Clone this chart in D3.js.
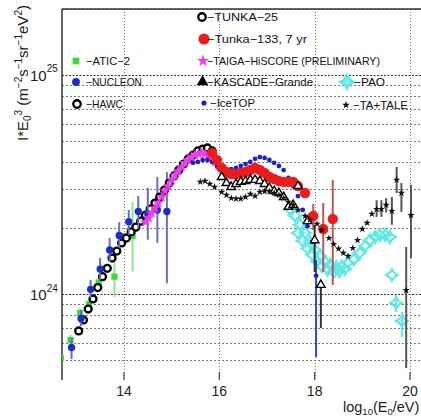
<!DOCTYPE html>
<html>
<head>
<meta charset="utf-8">
<script src="https://cdn.jsdelivr.net/npm/d3@7"></script>
<style>
  body { margin: 0; background: #fff; }
  svg { display: block; font-family: "Liberation Sans", Arial, sans-serif; }
</style>
</head>
<body>
<svg id="chart" width="421" height="419"></svg>
<script>
// ---- axis ticks ----
const X_TICKS = [14, 16, 18, 20];
const Y_LABELS = [1e24, 1e25];
const Y_LABEL_EXP = ["24", "25"];

// ---- ATIC-2 ----
const atic2Lg   = [12.68, 12.88, 13.08, 13.27, 13.47, 13.62, 13.80, 14.02, 14.18];
const atic2Flux = [5.10e23, 6.16e23, 8.19e23, 9.00e23, 1.13e24, 1.31e24, 1.20e24, 1.84e24, 1.84e24];
const atic2Lo   = [4.6e23, 5.8e23, 7.8e23, null, null, null, 0.969e24, null, 1.27e24];
const atic2Hi   = [5.6e23, 6.5e23, 8.6e23, null, null, null, 1.59e24, null, 2.63e24];

// ---- NUCLEON ----
const nucleonLg   = [12.9, 13.1, 13.3, 13.5, 13.7, 13.9, 14.1, 14.3, 14.5, 14.7, 14.9];
const nucleonFlux = [5.70e23, 7.73e23, 1.05e24, 1.30e24, 1.59e24, 1.85e24, 2.14e24, 2.38e24, 2.32e24, 2.42e24, 2.38e24];
const nucleonLo   = [5.05e23, 7.14e23, 9.59e23, 1.16e24, 1.40e24, 1.62e24, 1.86e24, 2.00e24, 1.77e24, 1.71e24, 1.12e24];
const nucleonHi   = [6.30e23, 8.45e23, 1.16e24, 1.46e24, 1.80e24, 2.13e24, 2.42e24, 2.80e24, 3.05e24, 3.42e24, 3.60e24];

// ---- HAWC ----
const hawcLg   = [13.05, 13.15, 13.25, 13.35, 13.45, 13.55, 13.65, 13.75, 13.85, 13.95, 14.05, 14.15, 14.25, 14.35, 14.45, 14.55];
const hawcFlux = [6.78e23, 7.61e23, 8.54e23, 9.49e23, 1.07e24, 1.20e24, 1.31e24, 1.46e24, 1.57e24, 1.71e24, 1.80e24, 1.92e24, 2.02e24, 2.15e24, 2.29e24, 2.44e24];

// ---- TUNKA-25 ----
const tunka25Lg   = [14.65, 14.75, 14.85, 14.95, 15.05, 15.15, 15.25, 15.35, 15.45, 15.55, 15.65, 15.75, 15.85];
const tunka25Flux = [2.60e24, 2.77e24, 2.98e24, 3.21e24, 3.46e24, 3.68e24, 3.92e24, 4.14e24, 4.31e24, 4.50e24, 4.59e24, 4.64e24, 4.50e24];

// ---- TAIGA-HiSCORE ----
const taigaLg   = [14.45, 14.52, 14.58, 14.65, 14.72, 14.79, 14.86, 14.93, 15.00, 15.07, 15.14, 15.21, 15.28, 15.35, 15.42, 15.49, 15.56, 15.63, 15.70, 15.77, 15.84, 15.91, 15.98];
const taigaFlux = [2.13e24, 2.22e24, 2.34e24, 2.47e24, 2.60e24, 2.77e24, 2.95e24, 3.11e24, 3.32e24, 3.49e24, 3.64e24, 3.80e24, 3.97e24, 4.09e24, 4.22e24, 4.31e24, 4.36e24, 4.41e24, 4.36e24, 4.31e24, 4.18e24, 4.01e24, 3.84e24];

// ---- IceTOP ----
const icetopLg   = [15.45, 15.55, 15.65, 15.75, 15.85, 15.95, 16.05, 16.15, 16.25, 16.35, 16.45, 16.55, 16.65, 16.75, 16.85, 16.95, 17.05, 17.15, 17.25, 17.35, 17.45, 17.55, 17.65, 17.75, 17.85, 17.95, 18.03];
const icetopFlux = [3.97e24, 4.01e24, 4.09e24, 4.09e24, 4.01e24, 3.84e24, 3.72e24, 3.68e24, 3.72e24, 3.76e24, 3.84e24, 3.92e24, 4.01e24, 4.14e24, 4.22e24, 4.18e24, 4.09e24, 3.97e24, 3.84e24, 3.68e24, 3.39e24, 3.11e24, 2.80e24, 2.42e24, 2.04e24, 1.73e24, 1.21e24];
const icetopLo   = icetopLg.map((v, i) => i === icetopLg.length - 1 ? 5.16e23 : null);
const icetopHi   = icetopLg.map((v, i) => i === icetopLg.length - 1 ? 1.43e24 : null);

// ---- Tunka-133, 7 yr ----
const tunka133Lg   = [15.85, 15.95, 16.05, 16.15, 16.25, 16.35, 16.45, 16.55, 16.65, 16.75, 16.85, 16.95, 17.05, 17.15, 17.25, 17.35, 17.45, 17.55, 17.65, 17.80, 17.97, 18.18, 18.38];
const tunka133Flux = [4.41e24, 4.09e24, 3.76e24, 3.61e24, 3.53e24, 3.53e24, 3.57e24, 3.61e24, 3.68e24, 3.76e24, 3.68e24, 3.57e24, 3.42e24, 3.35e24, 3.28e24, 3.25e24, 3.25e24, 3.25e24, 3.11e24, 2.89e24, 2.27e24, 1.98e24, 2.20e24];
const tunka133Lo   = tunka133Lg.map((v, i) => [null, 1.96e24, 1.26e24, 1.10e24][Math.max(0, i - 19)]);
const tunka133Hi   = tunka133Lg.map((v, i) => [null, 2.58e24, 2.60e24, 3.32e24][Math.max(0, i - 19)]);

// ---- KASCADE-Grande ----
const kascadeLg   = [16.05, 16.15, 16.25, 16.35, 16.45, 16.55, 16.65, 16.75, 16.85, 16.95, 17.05, 17.15, 17.25, 17.35, 17.45, 17.55, 17.65, 17.85, 18.00, 18.13];
const kascadeFlux = [3.42e24, 3.21e24, 3.08e24, 3.18e24, 3.25e24, 3.28e24, 3.32e24, 3.32e24, 3.28e24, 3.18e24, 3.05e24, 2.95e24, 2.89e24, 2.77e24, 2.50e24, 2.55e24, 3.11e24, 2.15e24, 1.76e24, 1.10e24];
const kascadeLo   = kascadeLg.map((v, i) => i === 18 ? 1.26e24 : i === 19 ? 7.0e23 : null);
const kascadeHi   = kascadeLg.map((v, i) => i === 18 ? 2.07e24 : i === 19 ? 1.16e24 : null);

// ---- PAO ----
const paoLg   = [17.48, 17.59, 17.69, 17.80, 17.90, 18.01, 18.11, 18.22, 18.32, 18.45, 18.57, 18.70, 18.82, 18.95, 19.06, 19.16, 19.27, 19.37, 19.48, 19.58,
                 17.65, 17.75, 17.85, 17.95, 18.05, 18.15, 18.27, 18.40, 18.52, 18.64,
                 19.62, 19.71, 19.83];
const paoFlux = [2.44e24, 2.27e24, 2.07e24, 1.90e24, 1.73e24, 1.59e24, 1.49e24, 1.40e24, 1.36e24, 1.33e24, 1.34e24, 1.39e24, 1.44e24, 1.54e24, 1.66e24, 1.76e24, 1.82e24, 1.86e24, 1.86e24, 1.82e24,
                 1.90e24, 1.75e24, 1.61e24, 1.51e24, 1.41e24, 1.34e24, 1.29e24, 1.26e24, 1.27e24, 1.30e24,
                 1.22e24, 9.10e23, 7.53e23];
const paoLo   = paoLg.map((v, i) => i === 31 ? 8.28e23 : i === 32 ? 6.36e23 : null);
const paoHi   = paoLg.map((v, i) => i === 31 ? 9.90e23 : i === 32 ? 8.28e23 : null);

// ---- TA+TALE ----
const taLg   = [15.6, 15.7, 15.8, 15.9, 16.05, 16.15, 16.25, 16.35, 16.45, 16.55, 16.65, 16.75, 16.85, 16.95, 17.05, 17.15, 17.25, 17.35, 17.45, 17.55, 17.65, 17.8, 17.9,
                18.05, 18.15, 18.3, 18.4, 18.5, 18.6, 18.7, 18.8, 18.9, 19.0, 19.1, 19.2, 19.3, 19.4, 19.5, 19.62, 19.72, 19.82, 19.92, 20.02];
const taFlux = [3.25e24, 3.28e24, 3.18e24, 3.08e24, 2.92e24, 2.83e24, 2.74e24, 2.72e24, 2.72e24, 2.77e24, 2.86e24, 2.80e24, 2.92e24, 2.94e24, 2.94e24, 2.89e24, 2.83e24, 2.74e24, 2.63e24, 2.55e24, 2.42e24, 2.27e24, 2.18e24,
                2.09e24, 1.96e24, 1.80e24, 1.69e24, 1.61e24, 1.54e24, 1.49e24, 1.62e24, 1.76e24, 1.98e24, 2.11e24, 2.32e24, 2.44e24, 2.44e24, 2.55e24, 2.39e24, 3.32e24, 2.89e24, 1.04e24, 2.29e24];
const taLo   = [null, null, null, null, null, null, null, null, null, null, null, null, null, null, null, null, null, null, null, null, null, null, null,
                null, null, null, null, null, null, null, null, null, null, null, null, 2.25e24, 2.25e24, 2.36e24, 2.07e24, 2.89e24, 2.37e24, 4.59e23, 1.46e24];
const taHi   = [null, null, null, null, null, null, null, null, null, null, null, null, null, null, null, null, null, null, null, null, null, null, null,
                null, null, null, null, null, null, null, null, null, null, null, null, 2.68e24, 2.68e24, 2.74e24, 2.77e24, 3.80e24, 3.21e24, 1.64e24, 3.15e24];

// ---- layout ----
const W = 421, H = 419;
const plotLeft = 62, plotTop = 9, plotBottom = 380;
const x = d3.scaleLinear().domain([12.7, 20.3]).range([plotLeft, 424.3]);
const y = d3.scaleLog().domain([4.05e23, 2e25]).range([plotBottom, plotTop]);

const svg = d3.select("#chart");
svg.append("defs").append("clipPath").attr("id", "plotClip")
  .append("rect").attr("x", plotLeft).attr("y", plotTop).attr("width", W - plotLeft).attr("height", plotBottom - plotTop);

// ---- grid ----
const isDecade = v => Math.abs(Math.log10(v) - Math.round(Math.log10(v))) < 1e-9;
const grid = svg.append("g");
grid.selectAll("line.h").data(y.ticks()).join("line")
  .attr("class", "h")
  .attr("x1", plotLeft).attr("x2", W)
  .attr("y1", d => Math.round(y(d)) + 0.5).attr("y2", d => Math.round(y(d)) + 0.5)
  .attr("stroke", d => isDecade(d) ? "#333" : "#7a7a7a")
  .attr("stroke-width", 1)
  .attr("stroke-dasharray", d => isDecade(d) ? "2,1.5" : "2,2");
grid.selectAll("line.v").data(X_TICKS).join("line")
  .attr("class", "v")
  .attr("x1", d => Math.round(x(d)) + 0.5).attr("x2", d => Math.round(x(d)) + 0.5)
  .attr("y1", plotTop).attr("y2", plotBottom)
  .attr("stroke", "#777").attr("stroke-width", 1).attr("stroke-dasharray", "1,2");

// ---- frame ----
svg.append("line").attr("x1", plotLeft).attr("x2", plotLeft).attr("y1", plotTop).attr("y2", plotBottom)
  .attr("stroke", "#333").attr("stroke-width", 1.5);
svg.append("line").attr("x1", plotLeft).attr("x2", W).attr("y1", plotTop).attr("y2", plotTop)
  .attr("stroke", "#333").attr("stroke-width", 1.5);

// ---- x axis ticks and labels ----
const xAx = svg.append("g");
xAx.selectAll("line").data(X_TICKS).join("line")
  .attr("x1", d => x(d)).attr("x2", d => x(d)).attr("y1", plotBottom).attr("y2", plotBottom - 8)
  .attr("stroke", "#444").attr("stroke-width", 1.2);
xAx.selectAll("text").data(X_TICKS).join("text")
  .attr("x", d => x(d)).attr("y", 396).attr("text-anchor", "middle")
  .attr("font-size", 14).attr("fill", "#222").text(d => d);

// ---- y axis labels 10^n ----
const yAx = svg.append("g");
Y_LABELS.forEach((v, i) => {
  const t = yAx.append("text").attr("x", 30).attr("y", y(v) + 6).attr("font-size", 15).attr("fill", "#222");
  t.append("tspan").text("10");
  t.append("tspan").attr("dy", -8.5).attr("font-size", 10).text(Y_LABEL_EXP[i]);
});

// ---- axis titles ----
const xt = svg.append("text").attr("x", 343).attr("y", 412).attr("font-size", 14.5).attr("fill", "#222");
xt.append("tspan").text("log");
xt.append("tspan").attr("dy", 3).attr("font-size", 9.5).text("10");
xt.append("tspan").attr("dy", -3).text("(E");
xt.append("tspan").attr("dy", 3).attr("font-size", 9.5).text("0");
xt.append("tspan").attr("dy", -3).text("/eV)");

const yt = svg.append("text").attr("transform", "translate(28,141) rotate(-90)")
  .attr("font-size", 15).attr("fill", "#222");
yt.append("tspan").text("I*E");
yt.append("tspan").attr("dy", 3).attr("font-size", 10).text("0");
yt.append("tspan").attr("dy", -9.5).attr("font-size", 10).text("3");
yt.append("tspan").attr("dy", 6.5).text(" (m");
yt.append("tspan").attr("dy", -6.5).attr("font-size", 10).text("\u22122");
yt.append("tspan").attr("dy", 6.5).text("s");
yt.append("tspan").attr("dy", -6.5).attr("font-size", 10).text("\u22121");
yt.append("tspan").attr("dy", 6.5).text("sr");
yt.append("tspan").attr("dy", -6.5).attr("font-size", 10).text("\u22121");
yt.append("tspan").attr("dy", 6.5).text("eV");
yt.append("tspan").attr("dy", -6.5).attr("font-size", 10).text("2");
yt.append("tspan").attr("dy", 6.5).text(")");

// ---- marker shapes ----
const sparkle = {
  draw(ctx, size) {
    const r = Math.sqrt(size) * 0.75, k = r * 0.3;
    ctx.moveTo(0, -r);
    ctx.quadraticCurveTo(k, -k, r, 0);
    ctx.quadraticCurveTo(k, k, 0, r);
    ctx.quadraticCurveTo(-k, k, -r, 0);
    ctx.quadraticCurveTo(-k, -k, 0, -r);
    ctx.closePath();
  }
};

const styles = {
  atic:     { type: d3.symbolSquare,   size: 38, fill: "#35dd35", stroke: "none", sw: 0, bar: "#8fe48f" },
  nucleon:  { type: d3.symbolCircle,   size: 42, fill: "#1b2fc8", stroke: "none", sw: 0, bar: "#6b6fb8" },
  hawc:     { type: d3.symbolCircle,   size: 38, fill: "#fff",    stroke: "#000", sw: 2.3, bar: "#000" },
  tunka25:  { type: d3.symbolCircle,   size: 38, fill: "#fff",    stroke: "#000", sw: 2.3, bar: "#000" },
  taiga:    { type: d3.symbolStar,     size: 40, fill: "#ee3cee", stroke: "none", sw: 0, bar: "#ee3cee" },
  icetop:   { type: d3.symbolCircle,   size: 18, fill: "#1a22c8", stroke: "none", sw: 0, bar: "#3a46b4" },
  tunka133: { type: d3.symbolCircle,   size: 85, fill: "#ec1c1c", stroke: "none", sw: 0, bar: "#b55a5a" },
  pao:      { type: sparkle,           size: 60, fill: "none",    stroke: "#5ee8e8", sw: 2, bar: "#5ee8e8" },
  kascade:  { type: d3.symbolTriangle, size: 32, fill: "#fff",    stroke: "#000", sw: 1.4, bar: "#333" },
  ta:       { type: d3.symbolStar,     size: 17, fill: "#111",    stroke: "none", sw: 0, bar: "#555" }
};

const plotG = svg.append("g").attr("clip-path", "url(#plotClip)");

function drawSeries(lgArr, flux, st, lo, hi) {
  const pts = lgArr.map((v, i) => ({ lg: v, f: flux[i], lo: lo ? lo[i] : null, hi: hi ? hi[i] : null }));
  const g = plotG.append("g");
  g.selectAll("line").data(pts.filter(p => p.lo != null && p.hi != null)).join("line")
    .attr("x1", p => x(p.lg)).attr("x2", p => x(p.lg))
    .attr("y1", p => y(p.hi)).attr("y2", p => y(p.lo))
    .attr("stroke", st.bar).attr("stroke-width", 2);
  g.selectAll("path").data(pts).join("path")
    .attr("d", d3.symbol().type(st.type).size(st.size))
    .attr("transform", p => `translate(${x(p.lg)},${y(p.f)})`)
    .attr("fill", st.fill).attr("stroke", st.stroke).attr("stroke-width", st.sw);
}

drawSeries(atic2Lg, atic2Flux, styles.atic, atic2Lo, atic2Hi);
drawSeries(hawcLg, hawcFlux, styles.hawc);
drawSeries(nucleonLg, nucleonFlux, styles.nucleon, nucleonLo, nucleonHi);
drawSeries(tunka25Lg, tunka25Flux, styles.tunka25);
drawSeries(taigaLg, taigaFlux, styles.taiga);
drawSeries(paoLg, paoFlux, styles.pao, paoLo, paoHi);
drawSeries(icetopLg, icetopFlux, styles.icetop, icetopLo, icetopHi);
drawSeries(tunka133Lg, tunka133Flux, styles.tunka133, tunka133Lo, tunka133Hi);
drawSeries(kascadeLg, kascadeFlux, styles.kascade, kascadeLo, kascadeHi);
drawSeries(taLg, taFlux, styles.ta, taLo, taHi);

// ---- legend ----
const legendItems = [
  { st: styles.atic,     mx: 76,  my: 61,  tx: 86,  label: "\u2212ATIC\u22122", w: 44 },
  { st: styles.nucleon,  mx: 76,  my: 82,  tx: 86,  label: "\u2212NUCLEON", w: 56 },
  { st: styles.hawc,     mx: 77,  my: 104, tx: 86,  label: "\u2212HAWC", w: 37 },
  { st: styles.tunka25,  mx: 202, my: 17,  tx: 207, label: "\u2212TUNKA\u221225", w: 71 },
  { st: styles.tunka133, mx: 204, my: 39,  tx: 207, label: "\u2212Tunka\u2212133, 7 yr", w: 100 },
  { st: styles.taiga,    mx: 203, my: 61,  tx: 207, label: "\u2212TAIGA\u2212HiSCORE (PRELIMINARY)", w: 173 },
  { st: styles.kascade,  mx: 202.5, my: 82, tx: 207, label: "\u2212KASCADE\u2212Grande", w: 106, solid: true },
  { st: styles.icetop,   mx: 204, my: 103, tx: 210, label: "\u2212IceTOP", w: 45 },
  { st: styles.pao,      mx: 347, my: 82,  tx: 354, label: "\u2212PAO", w: 31, big: true },
  { st: styles.ta,       mx: 346, my: 105, tx: 353, label: "\u2212TA+TALE", w: 55 }
];
const legendG = svg.append("g");
legendItems.forEach(e => {
  const st = e.st;
  legendG.append("path")
    .attr("d", d3.symbol().type(st.type).size(e.big ? 75 : st.size * 1.15)())
    .attr("transform", `translate(${e.mx},${e.my})`)
    .attr("fill", e.solid ? "#000" : (e.big ? "#7eeeee" : st.fill))
    .attr("stroke", st.stroke).attr("stroke-width", e.big ? 2.5 : st.sw);
  legendG.append("text").attr("x", e.tx).attr("y", e.my + 4)
    .attr("font-size", 11).attr("fill", "#111")
    .attr("textLength", e.w).attr("lengthAdjust", "spacingAndGlyphs")
    .text(e.label);
});
</script>
</body>
</html>
